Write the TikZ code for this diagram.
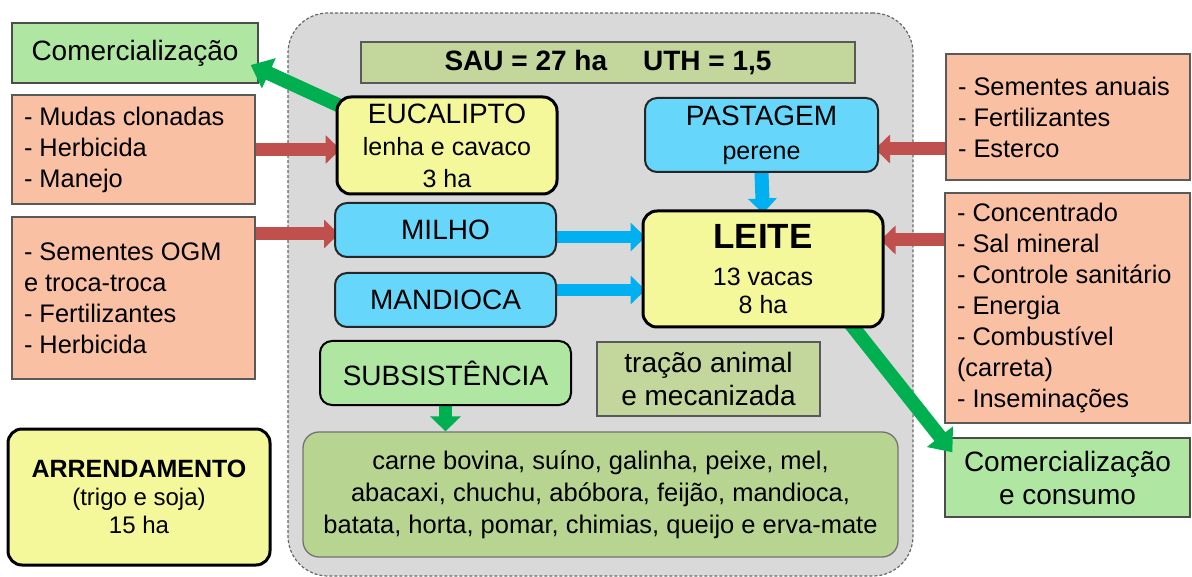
\documentclass[tikz,border=0pt]{standalone}
\usepackage{fontspec}
\setmainfont{Liberation Sans}
\usetikzlibrary{arrows.meta,calc}
\usepackage{xcolor}
\definecolor{salmon}{HTML}{F9C0A4}
\definecolor{lgreen}{HTML}{AEE6A2}
\definecolor{olive}{HTML}{C3D69B}
\definecolor{olivetwo}{HTML}{B7D591}
\definecolor{yellowb}{HTML}{F5F79B}
\definecolor{blueb}{HTML}{66D6FA}
\definecolor{grayb}{HTML}{D9D9D9}
\definecolor{redar}{HTML}{C0504D}
\definecolor{greenar}{HTML}{00B050}
\definecolor{bluear}{HTML}{00B0F0}
\newcommand{\fsA}{\fontsize{28}{33}\selectfont}
\newcommand{\fsB}{\fontsize{25.4}{31}\selectfont}
\newcommand{\fsC}{\fontsize{25}{32}\selectfont}
\newcommand{\fsD}{\fontsize{35}{38}\selectfont\bfseries}
\newcommand{\fsE}{\fontsize{24}{28}\selectfont}
\pgfdeclarelayer{bg}
\pgfdeclarelayer{low}
\pgfdeclarelayer{arr}
\pgfsetlayers{bg,low,arr,main}
\tikzstyle{farm} = [draw=black!60, fill=grayb, dashed, dash pattern=on 3pt off 2pt, line width=1.2pt, rounded corners=40pt, minimum width=625pt, minimum height=563pt]
\tikzstyle{salmonbox} = [draw=black!65, fill=salmon, line width=1.3pt, font=\fsB, align=flush left, inner xsep=12pt, minimum height=20pt]
\tikzstyle{comgreen} = [draw=black!70, fill=lgreen, line width=1.3pt, font=\fsA, align=center]
\tikzstyle{olivebox} = [draw=black!65, fill=olive, line width=1.3pt, font=\fsA, align=center]
\tikzstyle{yellowbox} = [draw=black, fill=yellowb, line width=3pt, rounded corners=14pt, align=center]
\tikzstyle{bluebox} = [draw=black!85, fill=blueb, line width=2pt, rounded corners=12pt, font=\fsA, align=center]
\tikzstyle{redarrow} = [draw=redar, line width=13pt, -{Triangle[length=15pt,width=28pt]}]
\tikzstyle{bluearrow} = [draw=bluear, line width=12pt, -{Triangle[length=15pt,width=28pt]}]
\tikzstyle{greenarrow} = [draw=greenar, line width=14pt, -{Triangle[length=20pt,width=32pt]}]

\begin{document}
\begin{tikzpicture}[x=1pt,y=-1pt]
    \useasboundingbox (0,0) rectangle (1192,577);
    \begin{pgfonlayer}{bg}
        \node[farm] (farm) at (600.5,294.5) {};
    \end{pgfonlayer}
    % left column
    \begin{pgfonlayer}{low}
        \node[comgreen, minimum width=246pt, minimum height=60pt] (comtop) at (135,53) {Comercialização};
        \node[comgreen, minimum width=245pt, minimum height=79pt] (comcons) at (1067.5,477.5)
            {Comercialização\\e consumo};
    \end{pgfonlayer}
    \node[salmonbox, text width=219pt, minimum height=109pt] (mudas) at (133.5,149.5)
        {- Mudas clonadas\\- Herbicida\\- Manejo};
    \node[salmonbox, text width=219pt, minimum height=162pt] (ogm) at (133.5,298)
        {- Sementes OGM\\e troca-troca\\- Fertilizantes\\- Herbicida};
    \node[yellowbox, font=\fsE, minimum width=262pt, minimum height=136pt] (arrend) at (139,497)
        {{\fontsize{25}{28}\selectfont\bfseries ARRENDAMENTO}\\(trigo e soja)\\15 ha};
    % farm
    \node[olivebox, font=\fontsize{28}{33}\selectfont\bfseries, minimum width=494pt, minimum height=41pt] (sau) at (608,62.5)
        {SAU = 27 ha\hspace{36pt}UTH = 1,5};
    \node[yellowbox, font=\fsC, minimum width=220pt, minimum height=97pt] (euc) at (447,145.5)
        {{\fsA EUCALIPTO}\\lenha e cavaco\\3 ha};
    \node[bluebox, font=\fsC, minimum width=233pt, minimum height=74pt] (past) at (761.5,135)
        {{\fsA PASTAGEM}\\[2pt]perene};
    \node[bluebox, minimum width=221pt, minimum height=54pt] (milho) at (445.5,230) {MILHO};
    \node[bluebox, minimum width=221pt, minimum height=54pt] (mand) at (445.5,300) {MANDIOCA};
    \node[yellowbox, font=\fontsize{25}{28}\selectfont, minimum width=240pt, minimum height=116pt] (leite) at (763,269)
        {{\fsD LEITE}\\[9pt]13 vacas\\8 ha};
    \node[draw=black, fill=lgreen, line width=2pt, rounded corners=12pt, font=\fsA, minimum width=251pt, minimum height=64pt] (subs) at (445.5,373) {SUBSISTÊNCIA};
    \node[olivebox, minimum width=223pt, minimum height=74pt] (tracao) at (708.5,379)
        {tração animal\\e mecanizada};
    \node[draw=black!55, fill=olivetwo, line width=1.3pt, rounded corners=16pt, font=\fontsize{25.5}{32}\selectfont, align=center, minimum width=595pt, minimum height=125pt] (prod) at (600.5,494.5)
        {carne bovina, suíno, galinha, peixe, mel,\\abacaxi, chuchu, abóbora, feijão, mandioca,\\batata, horta, pomar, chimias, queijo e erva-mate};
    % right column
    \node[salmonbox, text width=220pt, minimum height=126pt] (sement) at (1068,117)
        {- Sementes anuais\\- Fertilizantes\\- Esterco};
    \node[salmonbox, text width=221pt, minimum height=230pt] (conc) at (1067.5,308)
        {- Concentrado\\- Sal mineral\\- Controle sanitário\\- Energia\\- Combustível\\(carreta)\\- Inseminações};
    % arrows
    \begin{pgfonlayer}{arr}
        \coordinate (pastin) at ($(past.east)+(-4,14)$);
        \coordinate (leitein) at ($(leite.east)+(-4,-29)$);
        \path [redarrow] (mudas.east) -- ($(mudas.east -| euc.west)+(5,0)$);
        \path [redarrow] ($(ogm.east |- milho.west)+(0,4)$) -- ($(milho.west)+(5,4)$);
        \path [redarrow] (sement.west |- pastin) -- (pastin);
        \path [redarrow] (conc.west |- leitein) -- (leitein);
        \path [bluearrow] ($(milho.east)+(0,7)$) -- ($(milho.east -| leite.west)+(4,7)$);
        \path [bluearrow] ($(mand.east)+(0,-10)$) -- ($(mand.east -| leite.west)+(4,-10)$);
        \path [bluearrow, line width=14pt] (past.south) -- ($(leite.north)+(0,4)$);
        \path [greenarrow, line width=13pt, -{Triangle[length=15pt,width=30pt]}] (subs.south) -- (subs.south |- prod.north);
        \path [greenarrow] ($(euc.north west)+(8,12)$) -- ($(comtop.east)+(-8,12)$);
        \path [greenarrow] ($(leite.south east)+(-35,-6)$) -- ($(comcons.north west)+(8,15)$);
    \end{pgfonlayer}
\end{tikzpicture}
\end{document}
